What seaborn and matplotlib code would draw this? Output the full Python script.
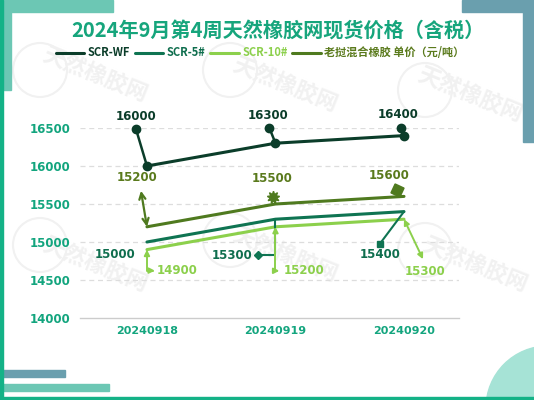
import matplotlib
matplotlib.use("Agg")
import matplotlib.pyplot as plt
from matplotlib.patches import Rectangle, Ellipse
from matplotlib.lines import Line2D
import matplotlib.transforms as mtransforms
import seaborn as sns
import pandas as pd

# ---- data ----
dates = ["20240918", "20240919", "20240920"]
series_names = ["SCR-WF", "SCR-5#", "SCR-10#", "老挝混合橡胶 单价（元/吨）"]
scr_wf = [16000, 16300, 16400]
scr_5 = [15000, 15300, 15400]
scr_10 = [14900, 15200, 15300]
laos_mix = [15200, 15500, 15600]
y_ticks = [14000, 14500, 15000, 15500, 16000, 16500]
title = "2024年9月第4周天然橡胶网现货价格（含税）"

colors = ["#0b3d2a", "#0f7452", "#8cd04c", "#4f7a1f"]
label_colors = ["#0b3d2a", "#0f6e4e", "#8cd04c", "#5a7a1c"]

values = [scr_wf, scr_5, scr_10, laos_mix]
rows = []
for name, vals in zip(series_names, values):
    for d, v in zip(dates, vals):
        rows.append({"date": d, "price": v, "series": name})
df = pd.DataFrame(rows)

sns.set_theme(style="white")
plt.rcParams["font.family"] = ["DejaVu Sans", "Noto Sans CJK SC"]

W, H = 534, 400
fig = plt.figure(figsize=(W / 100, H / 100), dpi=100)
fig.patch.set_facecolor("white")

def fx(px):
    return px / W

def fy(py):
    return 1 - py / H

# ---- decorations ----
teal = "#6cc7b4"
bluegray = "#6a9fae"
green = "#14b287"
def rect(x0, y0, w, h, col, z=-2):
    fig.patches.append(Rectangle((fx(x0), fy(y0 + h)), w / W, h / H, transform=fig.transFigure,
                                 color=col, zorder=z))
rect(0, 0, 113, 12, teal)
rect(0, 0, 11, 90, teal)
rect(462, 0, 72, 12, bluegray)
rect(523, 0, 11, 142, bluegray)
rect(0, 370, 65, 7, bluegray)
rect(0, 384, 109, 7, teal)
fig.patches.append(Ellipse((fx(548), fy(408)), 2 * 62 / W, 2 * 62 / H, transform=fig.transFigure,
                           color="#a6e3d6", zorder=-2))
rect(0, 0, 3, 400, green, z=-1)
rect(0, 397, 534, 3, green, z=-1)

# faint watermarks
for (wx, wy) in [(95, 75), (285, 85), (470, 95), (95, 265), (285, 255), (475, 265)]:
    fig.text(fx(wx), fy(wy), "天然橡胶网", rotation=-22, color="#f1f1f1", fontsize=16,
             family=["Noto Sans CJK SC"], fontweight="bold", ha="center", va="center", zorder=-3)
for (cx, cy) in [(40, 70), (230, 70), (425, 90), (40, 245), (230, 240), (425, 250)]:
    fig.patches.append(Ellipse((fx(cx), fy(cy)), 2 * 27 / W, 2 * 27 / H,
                               transform=fig.transFigure, fill=False,
                               ec="#f1f1f1", lw=1.5, zorder=-3))

# ---- axes ----
left, right, top, bottom = 80, 459, 128, 318
ax = fig.add_axes([fx(left), fy(bottom), (right - left) / W, (bottom - top) / H])
ax.patch.set_alpha(0)

sns.lineplot(data=df, x="date", y="price", hue="series", hue_order=series_names,
             palette=colors, linewidth=2.2, ax=ax, legend=False, sort=False, zorder=3)

ax.set_xlim(-0.521, 2.428)
ax.set_ylim(14000, 16500)
ax.set_yticks(y_ticks)
ax.set_yticklabels([str(t) for t in y_ticks])
ax.set_xticks(range(len(dates)))
ax.set_xticklabels(dates)
ax.set_xlabel("")
ax.set_ylabel("")
for s in ["top", "right", "left"]:
    ax.spines[s].set_visible(False)
ax.spines["bottom"].set_color("#cccccc")
ax.spines["bottom"].set_linewidth(1.0)
for t in y_ticks[1:]:
    ax.axhline(t, color="#dddddd", lw=0.9, ls=(0, (4, 3)), zorder=1)
ax.tick_params(axis="y", length=0, pad=7, labelsize=8.5, labelcolor="#13a57e")
ax.tick_params(axis="x", length=0, pad=6, labelsize=8, labelcolor="#13a57e")
for lab in ax.get_yticklabels() + ax.get_xticklabels():
    lab.set_fontweight("bold")

# ---- annotations ----
def label(i, val, dx, dy, color):
    ax.annotate(str(val), xy=(i, val), xytext=(dx, dy), textcoords="offset pixels",
                ha="center", va="center", fontsize=8.5, fontweight="bold", color=color,
                annotation_clip=False, zorder=6)

def connector(i, val, dx, dy, color, style="-", conn="arc3", lw=1.6, ms=8):
    ax.annotate("", xy=(i, val), xytext=(dx, dy), textcoords="offset pixels",
                arrowprops=dict(arrowstyle=style, color=color, lw=lw, shrinkA=0, shrinkB=0,
                                connectionstyle=conn, mutation_scale=ms),
                annotation_clip=False, zorder=5)

def marker_at(i, val, dx, dy, color, m, ms):
    tr = ax.transData + mtransforms.ScaledTranslation(dx / 100, dy / 100, fig.dpi_scale_trans)
    ax.plot([i], [val], marker=m, color=color, ms=ms, transform=tr, clip_on=False, zorder=6)

# SCR-WF
c = colors[0]
wf_off = [(-11, 37, -11, 50), (-6, 15, -7, 28), (-3, 8, -6, 21)]
for i, (v, (ex, ey, lx, ly)) in enumerate(zip(scr_wf, wf_off)):
    connector(i, v, ex, ey, c, lw=1.8)
    marker_at(i, v, 0, 0, c, "o", 6)
    marker_at(i, v, ex, ey, c, "o", 6)
    label(i, v, lx, ly, label_colors[0])

# 老挝混合
c = colors[3]
connector(0, laos_mix[0], -6, 36, c, style="<->", lw=1.6, ms=11)
label(0, laos_mix[0], -10, 49, label_colors[3])
connector(1, laos_mix[1], -2, 7, c, lw=1.4)
marker_at(1, laos_mix[1], -2, 7, c, (9, 1, 0), 9)
label(1, laos_mix[1], -3, 26, label_colors[3])
marker_at(2, laos_mix[2], -7, 6, c, (4, 0, 20), 10)
label(2, laos_mix[2], -15, 21, label_colors[3])

# SCR-5#
c = colors[1]
label(0, scr_5[0], -32, -13, label_colors[1])
connector(1, scr_5[1], -17, -36, c, conn="angle,angleA=0,angleB=90,rad=0", lw=1.5)
marker_at(1, scr_5[1], -17, -36, c, "D", 4)
label(1, scr_5[1], -43, -36, label_colors[1])
connector(2, scr_5[2], -24, -32, c, lw=1.5)
marker_at(2, scr_5[2], -24, -32, c, "s", 5)
label(2, scr_5[2], -24, -43, label_colors[1])

# SCR-10#
c = colors[2]
connector(0, scr_10[0], 8, -21, c, style="<|-|>", conn="angle,angleA=0,angleB=90,rad=0", lw=1.4)
label(0, scr_10[0], 30, -21, label_colors[2])
connector(1, scr_10[1], 4, -44, c, style="<|-|>", conn="angle,angleA=0,angleB=90,rad=0", lw=1.4)
label(1, scr_10[1], 29, -44, label_colors[2])
connector(2, scr_10[2], 19, -40, c, style="<|-|>", lw=1.4)
label(2, scr_10[2], 21, -52, label_colors[2])

# ---- title & legend ----
fig.text(fx(278), fy(31), title, ha="center", va="center", fontsize=14.5, fontweight="bold",
         color="#16a57c", family=["Noto Sans CJK SC", "DejaVu Sans"])

handles = [Line2D([0], [0], color=col, lw=2.2) for col in colors]
leg = fig.legend(handles, series_names, loc="center", bbox_to_anchor=(fx(260), fy(53)), ncol=4,
                 frameon=False, handlelength=2.6, handletextpad=0.3, columnspacing=0.4,
                 prop={"family": ["Noto Sans CJK SC", "DejaVu Sans"], "weight": "bold", "size": 8})
for txt, col in zip(leg.get_texts(), label_colors):
    txt.set_color(col)

fig.savefig("out.png", dpi=100, facecolor="white")
